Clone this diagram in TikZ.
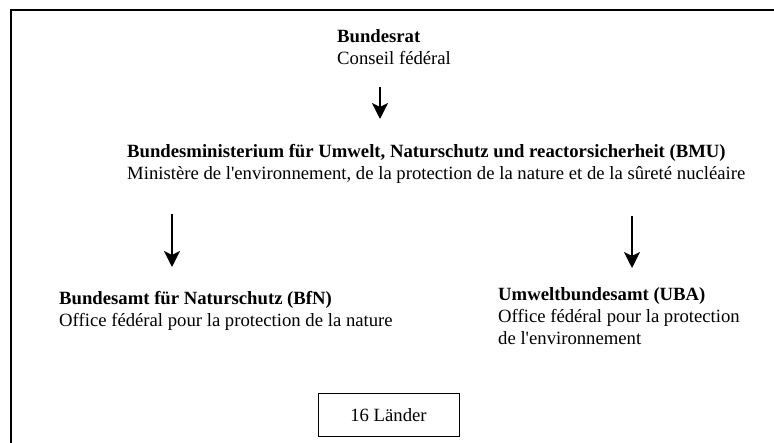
\documentclass[tikz,border=0pt]{standalone}
\usepackage{fontspec}
\setmainfont{Liberation Serif}
\usetikzlibrary{arrows.meta}
\begin{document}
\begin{tikzpicture}[x=1pt,y=-1pt,
  txt/.style={anchor=base west,inner sep=0pt,font=\fontsize{18.7}{22}\selectfont},
  btxt/.style={txt,font=\fontsize{18.7}{22}\selectfont\bfseries},
  frame/.style={line width=2.5pt,line cap=rect},
  downarrow/.style={line width=1.8pt,-{Stealth[width=16pt,length=16pt,inset=4pt]}},
  boxnode/.style={draw,line width=1pt,minimum width=141pt,minimum height=43pt,inner sep=0pt,font=\fontsize{18.7}{22}\selectfont}]
\useasboundingbox (0,0) rectangle (774,443);
% frame (top and left edges)
\coordinate (fbl) at (11,445);
\coordinate (ftl) at (11,10);
\coordinate (ftr) at (776,10);
\draw[frame] (fbl) -- (ftl) -- (ftr);
% Bundesrat
\node[btxt] (br) at (337,43) {Bundesrat};
\node[txt] (brfr) at (337,65) {Conseil fédéral};
% BMU
\node[btxt] (bmu) at (127,158) {Bundesministerium für Umwelt, Naturschutz und reactorsicherheit (BMU)};
\node[txt] (bmufr) at (127,180) {Ministère de l\textquotesingle environnement, de la protection de la nature et de la sûreté nucléaire};
% BfN
\node[btxt] (bfn) at (59,305) {Bundesamt für Naturschutz (BfN)};
\node[txt] (bfnfr) at (59,327) {Office fédéral pour la protection de la nature};
% UBA
\node[btxt] (uba) at (498,301) {Umweltbundesamt (UBA)};
\node[txt] (ubafr) at (498,323) {Office fédéral pour la protection};
\node[txt] (ubafrb) at (498,345) {de l\textquotesingle environnement};
% 16 Laender
\node[boxnode] (laender) at (388.5,415.5) {16 Länder};
% arrows
\coordinate (a1s) at (380,87);
\coordinate (a1e) at (380,119);
\coordinate (a2s) at (172,214);
\coordinate (a2e) at (172,267);
\coordinate (a3s) at (632,216);
\coordinate (a3e) at (632,268);
\draw[downarrow] (a1s) -- (a1e);
\draw[downarrow] (a2s) -- (a2e);
\draw[downarrow] (a3s) -- (a3e);
\end{tikzpicture}
\end{document}
